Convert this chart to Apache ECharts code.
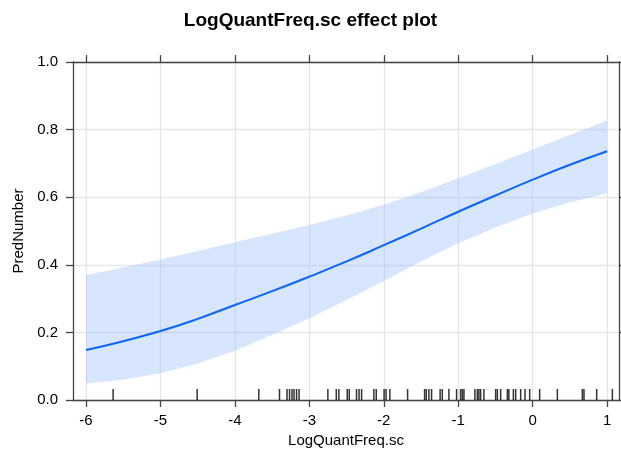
<!DOCTYPE html>
<html lang="en">
<head>
    <meta charset="UTF-8">
    <title>LogQuantFreq.sc effect plot</title>
    <script src="https://cdn.jsdelivr.net/npm/echarts@6/dist/echarts.min.js"></script>
    <style>
        html, body { margin: 0; padding: 0; background: #fff; }
        #main { width: 621px; height: 458px; }
    </style>
</head>
<body>
<div id="main"></div>
<script>
    // values
    var xValues = [-6, -5.5, -5, -4.5, -4, -3.5, -3, -2.5, -2, -1.5, -1, -0.5, 0, 0.5, 1];
    var fitValues = [0.148, 0.174, 0.204, 0.240, 0.281, 0.322, 0.365, 0.410, 0.458, 0.507, 0.557, 0.605, 0.652, 0.696, 0.736];
    var lowerValues = [0.049, 0.060, 0.079, 0.108, 0.146, 0.192, 0.242, 0.296, 0.352, 0.410, 0.464, 0.510, 0.552, 0.585, 0.612];
    var upperValues = [0.370, 0.392, 0.416, 0.441, 0.467, 0.492, 0.518, 0.546, 0.578, 0.615, 0.656, 0.698, 0.741, 0.784, 0.827];
    var rugValues = [-5.636, -4.507, -3.679, -3.401, -3.300, -3.266, -3.233, -3.206, -3.172, -3.138,
        -2.751, -2.638, -2.603, -2.491, -2.464, -2.366, -2.332, -2.298, -2.133, -2.101,
        -1.996, -1.969, -1.918, -1.680, -1.452, -1.429, -1.394, -1.358, -1.243, -1.214,
        -1.125, -1.022, -0.968, -0.945, -0.923, -0.776, -0.743, -0.722, -0.699, -0.655,
        -0.497, -0.474, -0.430, -0.340, -0.319, -0.259, -0.228, -0.161, -0.103, -0.040,
        0.094, 0.332, 0.668, 0.690, 0.860, 1.071];
    var xTicks = [-6, -5, -4, -3, -2, -1, 0, 1];
    var xMin = -6.175, xMax = 1.16;

    var font = 'Liberation Sans, Arial, Helvetica, sans-serif';
    var frameColor = '#444';
    var gridColor = '#e6e6e6';

    function pairs(ys) {
        return xValues.map(function (x, i) { return [x, ys[i]]; });
    }
    var bandData = xValues.map(function (x, i) { return [x, lowerValues[i], upperValues[i]]; });

    // confidence band drawn as one polygon through the library's coords
    function renderBand(params, api) {
        if (params.dataIndex !== 0) return;
        var top = [], bottom = [];
        for (var i = 0; i < bandData.length; i++) {
            top.push(api.coord([bandData[i][0], bandData[i][2]]));
            bottom.unshift(api.coord([bandData[i][0], bandData[i][1]]));
        }
        return {
            type: 'polygon',
            shape: {points: top.concat(bottom)},
            style: {fill: 'rgba(160,195,250,0.42)'},
            silent: true
        };
    }

    var chart = echarts.init(document.getElementById('main'), null, {renderer: 'canvas'});
    chart.setOption({
        animation: false,
        backgroundColor: '#fff',
        title: {
            text: 'LogQuantFreq.sc effect plot',
            left: 'center',
            top: 6,
            textStyle: {fontFamily: font, fontSize: 19, fontWeight: 'bold', color: '#000'}
        },
        grid: {left: 73, right: 2, top: 62, bottom: 58},
        xAxis: [{
            type: 'value',
            min: xMin,
            max: xMax,
            name: 'LogQuantFreq.sc',
            nameLocation: 'middle',
            nameGap: 28,
            nameTextStyle: {fontFamily: font, fontSize: 15, color: '#000'},
            axisLine: {onZero: false, lineStyle: {color: frameColor, width: 1.3}},
            axisTick: {customValues: xTicks, length: 7, lineStyle: {color: frameColor, width: 1.3}},
            axisLabel: {customValues: xTicks, fontFamily: font, fontSize: 15, color: '#000', margin: 13},
            splitLine: {show: true, lineStyle: {color: gridColor, width: 1.3}}
        }, {
            type: 'value',
            position: 'top',
            min: xMin,
            max: xMax,
            axisLine: {onZero: false, lineStyle: {color: frameColor, width: 1.3}},
            axisTick: {customValues: xTicks, length: 7, lineStyle: {color: frameColor, width: 1.3}},
            axisLabel: {show: false},
            splitLine: {show: false}
        }],
        yAxis: [{
            type: 'value',
            min: 0,
            max: 1,
            interval: 0.2,
            name: 'PredNumber',
            nameLocation: 'middle',
            nameGap: 46,
            nameTextStyle: {fontFamily: font, fontSize: 15, color: '#000'},
            axisLine: {show: true, onZero: false, lineStyle: {color: frameColor, width: 1.3}},
            axisTick: {show: true, length: 7, lineStyle: {color: frameColor, width: 1.3}},
            axisLabel: {
                fontFamily: font, fontSize: 15, color: '#000', margin: 15,
                formatter: function (v) { return v.toFixed(1); }
            },
            splitLine: {show: true, lineStyle: {color: gridColor, width: 1.3}}
        }, {
            type: 'value',
            position: 'right',
            min: 0,
            max: 1,
            interval: 0.2,
            axisLine: {show: true, onZero: false, lineStyle: {color: frameColor, width: 1.3}},
            axisTick: {show: true, length: 7, lineStyle: {color: frameColor, width: 1.3}},
            axisLabel: {show: false},
            splitLine: {show: false}
        }],
        series: [{
            name: 'band',
            type: 'custom',
            data: bandData,
            encode: {x: 0, y: [1, 2]},
            renderItem: renderBand,
            silent: true,
            z: 2
        }, {
            name: 'fit',
            type: 'line',
            data: pairs(fitValues),
            smooth: true,
            symbol: 'none',
            lineStyle: {color: '#0a64ff', width: 2},
            z: 3
        }, {
            name: 'rug',
            type: 'scatter',
            data: rugValues.map(function (x) { return [x, 0]; }),
            symbol: 'rect',
            symbolSize: [1.5, 11],
            symbolOffset: [0, -5.5],
            itemStyle: {color: '#000'},
            silent: true,
            z: 4
        }]
    });
</script>
</body>
</html>
